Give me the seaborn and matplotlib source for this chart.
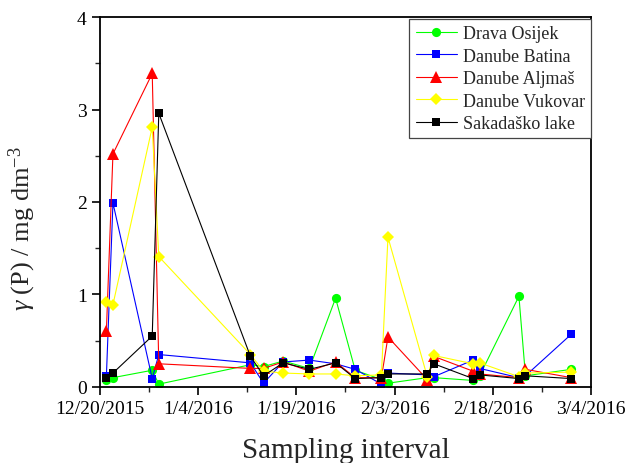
import matplotlib
matplotlib.use("Agg")
import matplotlib.pyplot as plt
import seaborn as sns
import pandas as pd
from matplotlib.ticker import AutoMinorLocator, FixedLocator, FixedFormatter, MultipleLocator

dates = ["2015-12-21", "2015-12-22", "2015-12-28", "2015-12-29", "2016-01-12",
         "2016-01-14", "2016-01-17", "2016-01-21", "2016-01-25", "2016-01-28",
         "2016-02-01", "2016-02-02", "2016-02-08", "2016-02-09", "2016-02-15",
         "2016-02-16", "2016-02-22", "2016-02-23", "2016-03-01"]

drava_osijek = [0.07, 0.10, 0.18, 0.03, 0.24, 0.22, 0.28, 0.20, 0.96, 0.18,
                0.08, 0.04, 0.10, 0.10, 0.07, 0.12, 0.98, 0.12, 0.19]
danube_batina = [0.12, 1.99, 0.09, 0.35, 0.26, 0.04, 0.27, 0.29, 0.25, 0.19,
                 0.03, 0.15, 0.13, 0.11, 0.29, 0.20, 0.10, 0.12, 0.57]
danube_aljmas = [0.61, 2.52, 3.39, 0.25, 0.20, 0.20, 0.27, 0.17, 0.27, 0.10,
                 0.10, 0.54, 0.08, 0.33, 0.17, 0.14, 0.10, 0.19, 0.10]
danube_vukovar = [0.92, 0.89, 2.81, 1.41, 0.35, 0.17, 0.15, 0.14, 0.14, 0.12,
                  0.13, 1.62, 0.11, 0.34, 0.25, 0.26, 0.11, 0.15, 0.16]
sakadasko_lake = [0.10, 0.15, 0.55, 2.96, 0.33, 0.12, 0.26, 0.19, 0.26, 0.09,
                  0.10, 0.14, 0.14, 0.25, 0.09, 0.13, 0.09, 0.12, 0.09]

series_names = ["Drava Osijek", "Danube Batina", "Danube Aljmaš",
                "Danube Vukovar", "Sakadaško lake"]
series_values = [drava_osijek, danube_batina, danube_aljmas, danube_vukovar, sakadasko_lake]

tick_dates = ["2015-12-20", "2016-01-04", "2016-01-19", "2016-02-03", "2016-02-18", "2016-03-04"]
tick_labels = ["12/20/2015", "1/4/2016", "1/19/2016", "2/3/2016", "2/18/2016", "3/4/2016"]

colors = ["#00FF00", "#0000FF", "#FF0000", "#FFFF00", "#000000"]
markers = ["o", "s", "^", "D", "s"]
msizes = [6.6, 6.3, 8.0, 6.0, 6.3]

sns.set_style("ticks")
plt.rcParams["font.family"] = ["Liberation Serif", "DejaVu Serif"]
plt.rcParams["mathtext.fontset"] = "custom"
plt.rcParams["mathtext.rm"] = "Liberation Serif"
plt.rcParams["mathtext.it"] = "Liberation Serif:italic"

fig = plt.figure(figsize=(6.28, 4.64), dpi=100)
ax = fig.add_axes([0.159, 0.164, 0.782, 0.797])

x = pd.to_datetime(dates)
for name, vals, c, m, ms in zip(series_names, series_values, colors, markers, msizes):
    sns.lineplot(x=x, y=vals, ax=ax, color=c, marker=m, markersize=ms,
                 markeredgewidth=0, linewidth=0.8, label=name, estimator=None, sort=False)

td = pd.to_datetime(tick_dates)
ax.set_xlim(td[0], td[-1])
ax.set_ylim(0, 4)
ax.xaxis.set_major_locator(FixedLocator(matplotlib.dates.date2num(td)))
ax.xaxis.set_major_formatter(FixedFormatter(tick_labels))
ax.xaxis.set_minor_locator(AutoMinorLocator(2))
ax.yaxis.set_major_locator(MultipleLocator(1))
ax.yaxis.set_minor_locator(MultipleLocator(0.5))

for s in ax.spines.values():
    s.set_color("black")
    s.set_linewidth(1.3)
ax.tick_params(which="major", direction="out", length=6, width=1.2, labelsize=14,
               colors="black", top=False, right=False)
ax.tick_params(which="minor", direction="out", length=3.5, width=1.0, top=False, right=False)

ax.set_xlabel("Sampling interval", fontsize=21, labelpad=14)
ax.set_ylabel(r"$\gamma$ (P) / mg dm$^{-3}$", fontsize=19)
ax.yaxis.set_label_coords(-0.125, 0.43)

leg = ax.legend(loc="upper right", bbox_to_anchor=(1.0, 0.995), fontsize=13,
                fancybox=False, edgecolor="#444444", framealpha=1,
                handlelength=2.3, handletextpad=0.3, labelspacing=0.3,
                borderpad=0.35, borderaxespad=0.0)
leg.get_frame().set_linewidth(0.9)

fig.savefig("out.png", dpi=100)
